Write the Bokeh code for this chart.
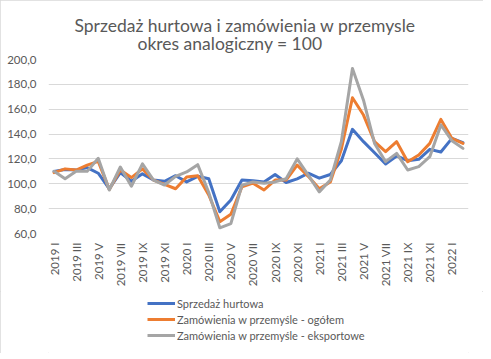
from bokeh.plotting import figure
from bokeh.layouts import column
from bokeh.models import Range1d, FixedTicker, Legend, LegendItem, Title, ColumnDataSource
from bokeh.embed import file_html
from bokeh.resources import INLINE

months = ["2019 I", "2019 II", "2019 III", "2019 IV", "2019 V", "2019 VI", "2019 VII", "2019 VIII",
          "2019 IX", "2019 X", "2019 XI", "2019 XII",
          "2020 I", "2020 II", "2020 III", "2020 IV", "2020 V", "2020 VI", "2020 VII", "2020 VIII",
          "2020 IX", "2020 X", "2020 XI", "2020 XII",
          "2021 I", "2021 II", "2021 III", "2021 IV", "2021 V", "2021 VI", "2021 VII", "2021 VIII",
          "2021 IX", "2021 X", "2021 XI", "2021 XII",
          "2022 I", "2022 II"]

sprzedaz_hurtowa = [110.0, 111.5, 111.0, 113.0, 108.5, 96.0, 109.0, 102.0, 108.0, 103.0, 102.0, 106.5,
                    101.5, 106.0, 104.0, 77.5, 87.0, 103.0, 102.5, 101.5, 107.5, 101.0, 104.0, 108.5,
                    104.5, 107.5, 118.5, 143.8, 133.9, 125.0, 115.9, 122.4, 118.6, 119.7, 127.7, 125.6,
                    136.5, 133.1]

zamowienia_ogolem = [109.0, 112.0, 111.0, 115.0, 118.0, 95.5, 111.0, 105.0, 112.0, 103.0, 99.5, 96.0,
                     105.5, 106.5, 91.0, 69.5, 75.5, 97.5, 100.5, 95.0, 103.0, 103.0, 115.0, 106.0,
                     96.0, 101.5, 128.0, 169.2, 155.3, 133.9, 125.8, 133.9, 117.8, 123.2, 132.5, 151.8,
                     136.5, 132.5]

zamowienia_eksport = [110.0, 104.0, 110.0, 110.0, 120.5, 95.0, 113.5, 98.0, 116.0, 103.0, 99.0, 106.0,
                      109.5, 115.4, 93.0, 64.6, 68.0, 98.8, 101.5, 100.5, 101.5, 104.0, 120.0, 107.0,
                      93.5, 103.0, 134.0, 192.8, 167.3, 132.5, 117.8, 124.5, 111.1, 113.8, 121.8, 147.3,
                      134.7, 128.5]

y_ticks = [60, 80, 100, 120, 140, 160, 180, 200]
y_tick_labels = ["60,0", "80,0", "100,0", "120,0", "140,0", "160,0", "180,0", "200,0"]

series_names = ["Sprzedaż hurtowa", "Zamówienia w przemyśle - ogółem", "Zamówienia w przemyśle - eksportowe"]
series_colors = ["#4472C4", "#ED7D31", "#A5A5A5"]

title_text = "Sprzedaż hurtowa i zamówienia w przemysle"
subtitle_text = "okres analogiczny = 100"

FONT = "Lato"
TXT = "#595959"

idx = list(range(len(months)))
src = ColumnDataSource(dict(x=idx, a=sprzedaz_hurtowa, b=zamowienia_ogolem, c=zamowienia_eksport))

fig = figure(width=483, height=291, output_backend="svg", toolbar_location=None, title=None,
             x_range=Range1d(-0.5, len(months) - 0.5), y_range=Range1d(60, 200),
             min_border_left=48, min_border_right=15, min_border_top=59, min_border_bottom=58)
fig.outline_line_color = None
fig.background_fill_color = "white"
fig.border_fill_color = "white"

# y axis
fig.yaxis.ticker = FixedTicker(ticks=y_ticks)
fig.yaxis.major_label_overrides = {t: l for t, l in zip(y_ticks, y_tick_labels)}
fig.yaxis.axis_line_color = None
fig.yaxis.major_tick_line_color = None
fig.yaxis.minor_tick_line_color = None
fig.yaxis.major_tick_out = 0
fig.yaxis.major_tick_in = 0
fig.yaxis.major_label_standoff = 12
fig.yaxis.major_label_text_font = FONT
fig.yaxis.major_label_text_font_size = "11.5px"
fig.yaxis.major_label_text_color = TXT

# x axis
even = [i for i in idx if i % 2 == 0]
fig.xaxis.ticker = FixedTicker(ticks=even)
fig.xaxis.major_label_overrides = {i: months[i] for i in even}
fig.xaxis.major_label_orientation = 1.5707963267948966
fig.xaxis.axis_line_color = None
fig.xaxis.major_tick_line_color = None
fig.xaxis.minor_tick_line_color = None
fig.xaxis.major_tick_out = 0
fig.xaxis.major_tick_in = 0
fig.xaxis.major_label_standoff = 9
fig.xaxis.major_label_text_font = FONT
fig.xaxis.major_label_text_font_size = "11.5px"
fig.xaxis.major_label_text_color = TXT

fig.xgrid.grid_line_color = None
fig.ygrid.grid_line_color = "#D9D9D9"
fig.ygrid.grid_line_width = 1

for col, color in zip(["a", "b", "c"], series_colors):
    fig.line("x", col, source=src, line_color=color, line_width=3,
             line_join="round", line_cap="round")

fig.add_layout(Title(text=subtitle_text, align="left", offset=89, text_font=FONT,
                     text_font_size="17.5px", text_font_style="normal", text_color=TXT,
                     standoff=11), "above")
fig.add_layout(Title(text=title_text, align="left", offset=26, text_font=FONT,
                     text_font_size="17.5px", text_font_style="normal", text_color=TXT,
                     standoff=-20), "above")

# legend strip below the chart (its frame is aligned with the chart frame by the column)
leg = figure(width=483, height=62, output_backend="svg", toolbar_location=None, title=None,
             x_range=Range1d(0, 1), y_range=Range1d(0, 1), x_axis_type=None, y_axis_type=None,
             min_border=0)
leg.outline_line_color = None
leg.grid.visible = False
leg_renderers = [leg.line(x=idx, y=vals, line_color=c, line_width=3)
                 for vals, c in zip([sprzedaz_hurtowa, zamowienia_ogolem, zamowienia_eksport], series_colors)]
legend = Legend(items=[LegendItem(label=n, renderers=[r]) for n, r in zip(series_names, leg_renderers)],
                location=(99, 10), orientation="vertical",
                glyph_width=28, glyph_height=16, label_height=16, label_standoff=2,
                spacing=0, padding=0, margin=0, border_line_color=None,
                background_fill_alpha=0,
                label_text_font=FONT, label_text_font_size="11px", label_text_color=TXT)
leg.add_layout(legend, "center")

p = column(fig, leg, spacing=0,
           stylesheets=[":host { outline: 1px solid #d9d9d9; outline-offset: -1px; }"])

open("out.html", "w").write(file_html(p, INLINE))
